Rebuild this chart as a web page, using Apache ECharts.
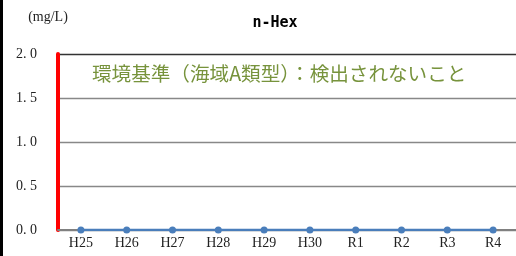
<!DOCTYPE html>
<html>
<head>
<meta charset="utf-8">
<script src="https://cdn.jsdelivr.net/npm/echarts@6/dist/echarts.min.js"></script>
<style>
  html, body { margin: 0; padding: 0; background: #fff; }
  #chart { width: 516px; height: 256px; }
</style>
</head>
<body>
<div id="chart"></div>
<script>
// 年度
var years = ["H25", "H26", "H27", "H28", "H29", "H30", "R1", "R2", "R3", "R4"];
// n-Hex 測定値 (mg/L)
var values = [0, 0, 0, 0, 0, 0, 0, 0, 0, 0];
// 縦軸目盛
var yTicks = [0, 0.5, 1.0, 1.5, 2.0];
var noteText = "環境基準（海域A類型）：検出されないこと";

var myChart = echarts.init(document.getElementById("chart"));
var serif = "'Liberation Serif', 'DejaVu Serif', 'Noto Sans CJK JP', serif";

var option = {
    animation: false,
    title: {
        text: "n-Hex",
        left: 270,
        top: 11,
        textAlign: "center",
        textStyle: { fontFamily: "'DejaVu Sans Mono', monospace", fontWeight: "bold", fontSize: 15, color: "#000" }
    },
    grid: { left: 58, right: -2, top: 54, bottom: 26 },
    xAxis: {
        type: "category",
        data: years,
        axisLine: { lineStyle: { color: "#808080", width: 2 } },
        axisTick: { inside: true, length: 4, lineStyle: { color: "#808080", width: 1 } },
        axisLabel: { fontFamily: serif, fontSize: 14, color: "#222", margin: 6 }
    },
    yAxis: {
        type: "value",
        min: yTicks[0],
        max: yTicks[yTicks.length - 1],
        interval: 0.5,
        name: "(mg/L)",
        nameLocation: "end",
        nameGap: 30,
        nameTextStyle: { fontFamily: serif, fontSize: 14, color: "#222", align: "center", padding: [0, 0, 0, -20] },
        axisLine: { show: true, lineStyle: { color: "red", width: 4 } },
        axisLabel: {
            fontFamily: serif, fontSize: 14, color: "#222", margin: 21,
            formatter: function (v) { return v.toFixed(1).replace(".", ". "); }
        },
        splitLine: { lineStyle: { color: ["#888", "#888", "#888", "#888", "#333"], width: 1.3 } }
    },
    series: [{
        name: "n-Hex",
        type: "line",
        data: values,
        symbol: "circle",
        symbolSize: 7,
        itemStyle: { color: "#4A7EBB" },
        lineStyle: { color: "#4A7EBB", width: 2.5 }
    }],
    graphic: [
        { type: "rect", left: 0, top: 0, shape: { width: 3, height: 256 }, style: { fill: "#000" } },
        {
            type: "text", left: 92, top: 64,
            style: { text: noteText, fill: "#77933C", fontSize: 19.6, fontFamily: "'Noto Sans CJK JP', sans-serif" }
        }
    ]
};

myChart.setOption(option);
</script>
</body>
</html>
